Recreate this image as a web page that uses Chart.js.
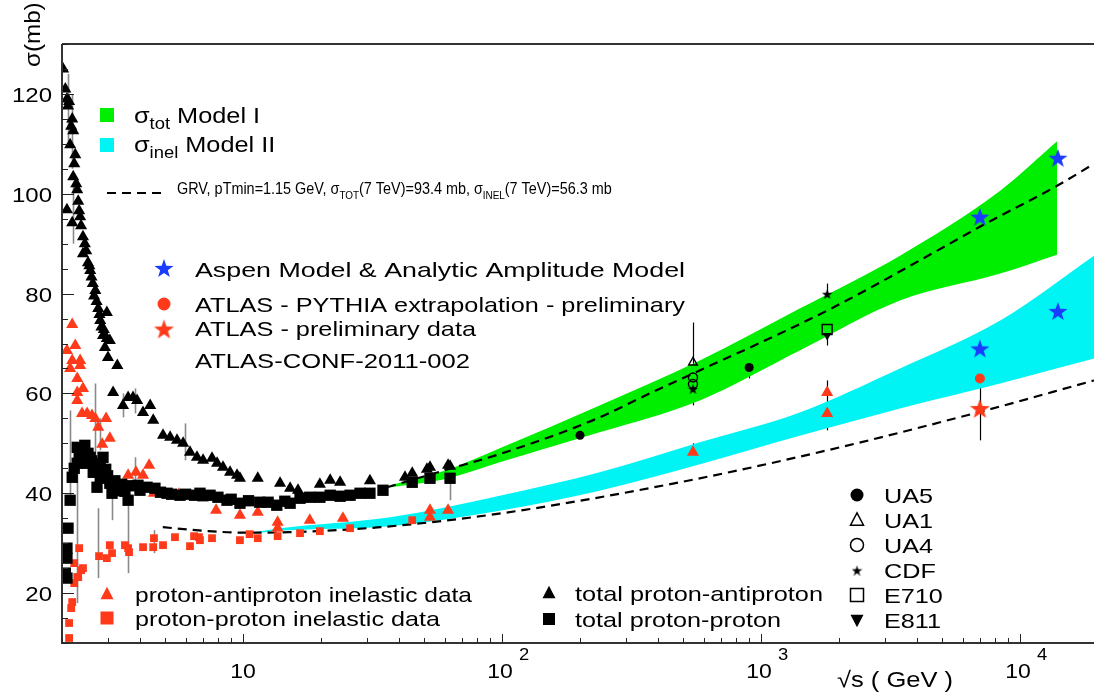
<!DOCTYPE html>
<html>
<head>
<meta charset="utf-8">
<script src="https://cdn.jsdelivr.net/npm/chart.js@4"></script>
<style>
  html, body { margin: 0; padding: 0; background: #fff; }
  #wrap { width: 1094px; height: 695px; }
</style>
</head>
<body>
<div id="wrap"><canvas id="c" width="1094" height="695"></canvas></div>
<script>
// ---- data (sqrt(s) in GeV, sigma in mb) ----
const ppbarTotE = [2.02, 2.06, 2.09, 2.11, 2.13, 2.17, 2.19, 2.21, 2.15, 2.25, 2.23, 2.21, 2.27, 2.29, 2.31, 2.33, 2.09, 2.19, 2.35, 2.37, 2.41, 2.45, 2.48, 2.52, 2.41, 2.55, 2.57, 2.6, 2.63, 2.66, 2.69, 2.72, 2.76, 2.79, 2.81, 2.84, 2.88, 2.9, 2.98, 3.06, 2.93, 2.98, 3.01, 3.27, 3.15, 3.44, 3.60, 3.76, 3.90, 4.11, 4.38, 4.50, 4.91, 5.23, 5.56, 5.87, 6.24, 6.64, 7.01, 7.59, 7.94, 8.37, 8.91, 9.48, 9.73, 11.4, 13.9, 15.2, 16.3, 19.8, 21.7, 23.7, 30.9, 42.2, 45.0, 51.3, 52.7, 61.9, 63.0];
const ppbarTotS = [125, 121, 119, 117.6, 118.5, 113.5, 115, 112.6, 109.8, 107.8, 106, 103.4, 102, 100.8, 98.5, 96.6, 96.8, 94.2, 95.4, 93.6, 91.4, 90, 88.6, 86.2, 88, 85.6, 84.6, 83.3, 82, 79.5, 80.6, 78.4, 77, 75.8, 74.6, 73.3, 71.6, 72.8, 71, 70.6, 69.2, 76.2, 67.2, 65.6, 60.2, 57.6, 59.2, 59.2, 58.6, 56.2, 57.6, 54.6, 51.6, 51.2, 50.6, 50, 48.2, 47.2, 46.6, 47, 46, 45.2, 44.2, 43.6, 43, 43, 42, 41, 40.6, 41.8, 42.6, 42.2, 42.5, 43.2, 44, 44.8, 45.2, 45.6, 45.4];

const ppTotE = [2.06, 2.09, 2.09, 2.09, 2.11, 2.15, 2.19, 2.23, 2.29, 2.29, 2.33, 2.35, 2.39, 2.41, 2.45, 2.5, 2.52, 2.57, 2.6, 2.64, 2.7, 2.73, 2.76, 2.81, 2.81, 2.88, 2.9, 2.95, 3.0, 3.06, 3.12, 3.2, 3.3, 3.4, 3.5, 3.60, 3.7, 3.93, 4.0, 4.26, 4.57, 4.8, 5.09, 5.3, 5.71, 6.0, 6.5, 6.82, 7.0, 7.46, 8.0, 8.67, 9.0, 9.73, 10.5, 11.6, 12.5, 13.5, 14.5, 15.2, 16.6, 18.1, 19.8, 21.7, 23.7, 25.9, 28.3, 30.9, 34.7, 45.0, 52.7, 63.0];
const ppTotS = [24, 27, 23, 29, 33, 38.6, 43.2, 45, 46, 49.2, 48, 47, 48.5, 47.2, 49.6, 46, 48, 47.2, 46.5, 44.2, 45, 41.2, 45.5, 46, 43, 47.2, 44, 44.8, 43.5, 42, 40, 42.5, 40.5, 41.8, 40.4, 38.6, 41.5, 41.6, 40.6, 41.2, 41, 40.2, 40, 39.8, 39.6, 39.8, 39.6, 40, 39.5, 39.6, 39.2, 38.6, 38.8, 38, 38.5, 38.2, 38.2, 37.6, 38.4, 38, 39, 39.2, 39.2, 39.6, 39.4, 39.6, 40, 40, 40.6, 42.2, 43, 43];

const ppbarInelE = [2.19, 2.09, 2.25, 2.19, 2.15, 2.35, 2.35, 2.29, 2.29, 2.29, 2.41, 2.39, 2.50, 2.61, 2.69, 2.76, 2.96, 2.86, 3.06, 3.60, 3.86, 4.11, 4.34, 4.53, 4.91, 5.66, 7.87, 9.73, 11.4, 13.6, 13.6, 18.1, 24.3, 52.7, 52.7, 61.9, 546, 1800, 1800];
const ppbarInelS = [73.8, 68.6, 69.6, 66.6, 65, 66.6, 65.6, 63, 60.2, 58.6, 61, 56, 56, 55.6, 55, 53.2, 55, 49.8, 51, 43.6, 44.2, 43.6, 45.6, 40, 40, 39.8, 36.6, 35.6, 36.2, 34.2, 33, 34.6, 35, 36.6, 35.2, 36.6, 48.2, 60.2, 56];

const ppInelE = [2.13, 2.13, 2.17, 2.19, 2.23, 2.29, 2.31, 2.33, 2.23, 2.37, 2.41, 2.78, 2.98, 3.06, 3.12, 3.50, 3.60, 3.63, 4.11, 4.50, 4.53, 4.91, 5.46, 6.24, 6.47, 6.76, 6.82, 7.59, 9.73, 10.6, 11.4, 13.6, 16.6, 19.8, 25.9, 45.0];
const ppInelS = [14, 11, 17, 18.2, 22, 23.2, 23.2, 29, 26, 24.6, 25, 27.4, 27, 29.6, 28, 29.6, 29, 28.2, 29.2, 29.2, 31, 29.6, 31.2, 29.4, 31.4, 31.2, 30.6, 31, 30.6, 31.8, 31, 31.4, 32, 32.4, 33, 34.6];

// collider points
const ua5E = [200, 900], ua5S = [51.6, 65.2];
const ua1E = [546], ua1S = [66.2];
const ua4E = [546, 546], ua4S = [63.2, 61.9];
const cdfE = [1800, 546], cdfS = [80.0, 61.0];
const e710E = [1800], e710S = [72.8];
const e811E = [1800], e811S = [71.6];
const aspenE = [7000, 14000, 7000, 14000], aspenS = [95.4, 107.2, 69.0, 76.5];
const atlasPyE = [7000], atlasPyS = [63.0];
const atlasDataE = [7000], atlasDataS = [57.0];

// model bands
const greenE  = [37, 60, 98, 238, 580, 1410, 3440, 8380, 13900];
const greenHi = [41.6, 44.5, 49, 57.6, 66.6, 77, 87.6, 100.6, 110.5];
const greenLo = [41.2, 42.8, 46.2, 52.2, 58.6, 68.6, 78.6, 84, 87.8];
const cyanE  = [11, 13.9, 37, 98, 238, 580, 1410, 3440, 8380, 19300];
const cyanHi = [32.2, 33.0, 35.2, 39.5, 44.2, 50.2, 56.2, 65.0, 74.6, 87.6];
const cyanLo = [32.0, 32.5, 33.4, 36.5, 40.5, 45.8, 51.5, 57.0, 62.0, 67.0];

// GRV curves
const grvTotE = [36, 60, 100, 224, 372, 1800, 4790, 7000, 13900, 19300];
const grvTotS = [41.2, 44.6, 48, 54.6, 60, 76.6, 88.6, 93.4, 101.6, 106];
const grvInelE = [4.9, 7, 10, 15, 33.8, 100, 486, 1800, 7000, 19300];
const grvInelS = [33.2, 32.5, 32.1, 32.2, 33.2, 36, 42.2, 48.6, 56.3, 62.6];

// error bars: [sqrt(s), low, high, dark?]
const errBars = [
  [2.11, 110, 124, 0], [2.19, 105, 120, 0], [2.21, 90, 102, 0], [2.15, 39.2, 56.6, 0],
  [2.29, 18, 47.2, 0], [2.69, 46, 62, 0], [2.81, 48.6, 55, 0], [2.76, 23, 37, 0],
  [3.60, 24, 38.6, 0], [3.12, 34.6, 42, 0], [4.53, 28, 32.6, 0], [3.44, 55.2, 60, 0],
  [3.83, 56, 61, 0], [5.97, 46.6, 54, 0], [3.83, 42, 47.2, 0], [63.0, 38.6, 45.2, 0],
  [546, 57.6, 74.2, 1], [1800, 69.6, 82, 1], [900, 63, 67.6, 1], [1800, 52.6, 62.6, 1],
  [546, 46.6, 50, 1], [7000, 50.6, 68.6, 1]
];

const FONT = '"Liberation Sans", Arial, Helvetica, sans-serif';
const RED = '#ff3a1a', BLUE = '#1a3cff', GREEN = '#00ee00', CYAN = '#00f4f4';

function pts(xs, ys) { return xs.map((x, i) => ({ x: x, y: ys[i] })); }

function starCanvas(size, color) {
  const c = document.createElement('canvas');
  c.width = c.height = size;
  const g = c.getContext('2d');
  g.fillStyle = color;
  g.beginPath();
  for (let i = 0; i < 10; i++) {
    const r = i % 2 ? size * 0.2 : size * 0.5;
    const a = -Math.PI / 2 + i * Math.PI / 5;
    const px = size / 2 + r * Math.cos(a), py = size / 2 + 1 + r * Math.sin(a);
    i ? g.lineTo(px, py) : g.moveTo(px, py);
  }
  g.closePath();
  g.fill();
  return c;
}
const blueStar = starCanvas(20, BLUE);
const redStar = starCanvas(21, RED);
const blackStar = starCanvas(11, '#000');

function scatterSet(label, xs, ys, style, r, fill, stroke, extra) {
  return Object.assign({
    type: 'scatter', label: label, data: pts(xs, ys), pointStyle: style, pointRadius: r,
    backgroundColor: fill, borderColor: stroke, borderWidth: 0, order: 0
  }, extra || {});
}
function lineSet(label, xs, ys, extra) {
  return Object.assign({
    type: 'line', label: label, data: pts(xs, ys), pointRadius: 0, borderWidth: 0,
    cubicInterpolationMode: 'monotone', fill: false, order: 10
  }, extra || {});
}

const datasets = [
  lineSet('green hi', greenE, greenHi, { fill: '+1', backgroundColor: GREEN }),
  lineSet('green lo', greenE, greenLo),
  lineSet('cyan hi', cyanE, cyanHi, { fill: '+1', backgroundColor: CYAN }),
  lineSet('cyan lo', cyanE, cyanLo),
  lineSet('GRV tot', grvTotE, grvTotS, { borderWidth: 2.2, borderColor: '#000', borderDash: [9, 6], order: 5 }),
  lineSet('GRV inel', grvInelE, grvInelS, { borderWidth: 2.2, borderColor: '#000', borderDash: [9, 6], order: 5 }),
  scatterSet('ppbar tot', ppbarTotE, ppbarTotS, 'triangle', 7, '#000', '#000'),
  scatterSet('pp tot', ppTotE, ppTotS, 'rect', 8, '#000', '#000'),
  scatterSet('ppbar inel', ppbarInelE, ppbarInelS, 'triangle', 7, RED, RED),
  scatterSet('pp inel', ppInelE, ppInelS, 'rect', 5.5, RED, RED),
  scatterSet('UA5', ua5E, ua5S, 'circle', 4.5, '#000', '#000'),
  scatterSet('UA1', ua1E, ua1S, 'triangle', 5, 'rgba(0,0,0,0)', '#000', { borderWidth: 1.4 }),
  scatterSet('UA4', ua4E, ua4S, 'circle', 4.5, 'rgba(0,0,0,0)', '#000', { borderWidth: 1.4 }),
  scatterSet('CDF', cdfE, cdfS, blackStar, 5, '#000', '#000'),
  scatterSet('E710', e710E, e710S, 'rect', 7, 'rgba(0,0,0,0)', '#000', { borderWidth: 1.4 }),
  scatterSet('E811', e811E, e811S, 'triangle', 5, '#000', '#000', { rotation: 180 }),
  scatterSet('ATLAS PYTHIA', atlasPyE, atlasPyS, 'circle', 5, RED, RED),
  scatterSet('ATLAS data', atlasDataE, atlasDataS, redStar, 10, RED, RED),
  scatterSet('Aspen', aspenE, aspenS, blueStar, 10, BLUE, BLUE)
];

// text helper: horizontal stretch sx, or fitted to width w when sx < 0
function txt(ctx, s, x, y, size, sx, align) {
  ctx.save();
  ctx.font = size + 'px ' + FONT;
  ctx.textBaseline = 'alphabetic';
  const raw = ctx.measureText(s).width;
  if (sx < 0) sx = -sx / raw;
  const w = raw * sx;
  let dx = 0;
  if (align === 'center') dx = -w / 2;
  if (align === 'right') dx = -w;
  ctx.translate(x + dx, y);
  ctx.scale(sx, 1);
  ctx.fillText(s, 0, 0);
  ctx.restore();
  return w;
}
function rich(ctx, parts, x, y, sx) {
  let cx = x;
  parts.forEach(([s, size, dy]) => { cx += txt(ctx, s, cx, y + dy, size, sx); });
}
function mark(ctx, kind, x, y, s, color, open) {
  ctx.save();
  ctx.fillStyle = color; ctx.strokeStyle = color; ctx.lineWidth = 1.5;
  ctx.beginPath();
  if (kind === 'square') ctx.rect(x - s / 2, y - s / 2, s, s);
  if (kind === 'circle') ctx.arc(x, y, s / 2, 0, Math.PI * 2);
  if (kind === 'tri') { ctx.moveTo(x, y - s * 0.55); ctx.lineTo(x + s / 2, y + s * 0.4); ctx.lineTo(x - s / 2, y + s * 0.4); ctx.closePath(); }
  if (kind === 'dtri') { ctx.moveTo(x, y + s * 0.55); ctx.lineTo(x + s / 2, y - s * 0.4); ctx.lineTo(x - s / 2, y - s * 0.4); ctx.closePath(); }
  open ? ctx.stroke() : ctx.fill();
  ctx.restore();
}
function star(ctx, img, x, y) { ctx.drawImage(img, x - img.width / 2, y - img.height / 2); }

const errorBarPlugin = {
  id: 'errorBars',
  beforeDatasetsDraw(chart) {
    const { ctx, chartArea: a, scales: { x, y } } = chart;
    ctx.save();
    ctx.beginPath(); ctx.rect(a.left, a.top, a.right - a.left, a.bottom - a.top); ctx.clip();
    errBars.forEach(([e, lo, hi, dark]) => {
      const px = Math.round(x.getPixelForValue(e)) + 0.5;
      ctx.strokeStyle = dark ? '#000' : '#8a8a8a';
      ctx.lineWidth = dark ? 1.2 : 1.6;
      ctx.beginPath();
      ctx.moveTo(px, y.getPixelForValue(lo));
      ctx.lineTo(px, y.getPixelForValue(hi));
      ctx.stroke();
    });
    ctx.restore();
  }
};

const framePlugin = {
  id: 'frame',
  afterDraw(chart) {
    const { ctx, chartArea: a, scales: { x, y } } = chart;
    ctx.save();
    ctx.strokeStyle = '#333'; ctx.lineWidth = 2;
    ctx.beginPath();
    ctx.moveTo(a.left, a.top); ctx.lineTo(a.right, a.top);
    ctx.moveTo(a.left, a.top); ctx.lineTo(a.left, a.bottom); ctx.lineTo(a.right, a.bottom);
    ctx.stroke();
    // y ticks
    ctx.lineWidth = 1;
    ctx.strokeStyle = '#222';
    for (let v = 10; v <= 130; v += 5) {
      const py = Math.round(y.getPixelForValue(v)) + 0.5;
      const len = v % 20 === 0 ? 12 : 6;
      ctx.beginPath(); ctx.moveTo(a.left, py); ctx.lineTo(a.left + len, py); ctx.stroke();
    }
    ctx.fillStyle = '#000';
    for (let v = 20; v <= 120; v += 20) {
      txt(ctx, String(v), 52, y.getPixelForValue(v) + 8, 20, 1.2, 'right');
    }
    // x ticks
    for (let d = 0; d <= 4; d++) {
      for (let m = 1; m <= 9; m++) {
        const v = m * Math.pow(10, d);
        if (v < 2 || v > 19300) continue;
        const px = Math.round(x.getPixelForValue(v)) + 0.5;
        const len = m === 1 ? 9 : 5;
        ctx.beginPath(); ctx.moveTo(px, a.bottom); ctx.lineTo(px, a.bottom - len); ctx.stroke();
      }
    }
    txt(ctx, '10', x.getPixelForValue(10), 678, 20, 1.15, 'center');
    [[100, '2'], [1000, '3'], [10000, '4']].forEach(([v, p]) => {
      const px = x.getPixelForValue(v);
      txt(ctx, '10', px - 2, 678, 20, 1.15, 'center');
      txt(ctx, p, px + 17, 660, 16, 1.15);
    });
    // axis titles
    txt(ctx, '\u221As ( GeV )', 837, 687, 22, -116);
    ctx.save();
    ctx.translate(40, 67); ctx.rotate(-Math.PI / 2);
    txt(ctx, '\u03C3(mb)', 0, 0, 22, 1.1);
    ctx.restore();

    // legend top-left
    ctx.fillStyle = GREEN; ctx.fillRect(100, 108, 14, 14);
    ctx.fillStyle = CYAN; ctx.fillRect(100, 138, 14, 14);
    ctx.fillStyle = '#000';
    rich(ctx, [['\u03C3', 22, 0], ['tot', 16, 6], [' Model I', 22, 0]], 134, 123, 1.15);
    rich(ctx, [['\u03C3', 22, 0], ['inel', 16, 6], [' Model II', 22, 0]], 134, 152, 1.15);
    ctx.save();
    ctx.strokeStyle = '#000'; ctx.lineWidth = 2.2; ctx.setLineDash([9, 6]);
    ctx.beginPath(); ctx.moveTo(107, 193); ctx.lineTo(165, 193); ctx.stroke();
    ctx.restore();
    rich(ctx, [['GRV, pTmin=1.15 GeV, ', 16, 0], ['\u03C3', 16, 0], ['TOT', 11, 5],
      ['(7 TeV)=93.4 mb, ', 16, 0], ['\u03C3', 16, 0], ['INEL', 11, 5], ['(7 TeV)=56.3 mb', 16, 0]], 177, 194, 0.9);

    star(ctx, blueStar, 164, 268);
    txt(ctx, 'Aspen Model & Analytic Amplitude Model', 195, 277, 21, -490);
    mark(ctx, 'circle', 164, 304, 13, RED);
    txt(ctx, 'ATLAS - PYTHIA extrapolation - preliminary', 195, 312, 21, -490);
    star(ctx, redStar, 164, 329);
    txt(ctx, 'ATLAS - preliminary data', 195, 336, 21, -281);
    txt(ctx, 'ATLAS-CONF-2011-002', 195, 368, 21, -275);

    // legend bottom
    mark(ctx, 'tri', 107, 594, 13, RED);
    txt(ctx, 'proton-antiproton inelastic data', 135, 602, 21, -337);
    mark(ctx, 'square', 107, 618, 13, RED);
    txt(ctx, 'proton-proton inelastic data', 135, 626, 21, -305);
    mark(ctx, 'tri', 549, 593, 13, '#000');
    txt(ctx, 'total proton-antiproton', 575, 601, 21, -248);
    mark(ctx, 'square', 549, 619, 12, '#000');
    txt(ctx, 'total proton-proton', 575, 627, 21, 1.2);

    // legend experiments
    const rows = [['UA5', 'circle', 0], ['UA1', 'tri', 1], ['UA4', 'circle', 1], ['CDF', 'star', 0], ['E710', 'square', 1], ['E811', 'dtri', 0]];
    rows.forEach(([name, kind, open], i) => {
      const cy = 495 + i * 25;
      if (kind === 'star') star(ctx, blackStar, 857, cy);
      else mark(ctx, kind, 857, cy, 13, '#000', open);
      txt(ctx, name, 884, cy + 8, 21, 1.2);
    });
    ctx.restore();
  }
};

new Chart(document.getElementById('c'), {
  type: 'scatter',
  data: { datasets: datasets },
  options: {
    responsive: false,
    animation: false,
    devicePixelRatio: 1,
    layout: { autoPadding: false, padding: { top: 44, right: 0, left: 0, bottom: 0 } },
    plugins: { legend: { display: false }, tooltip: { enabled: false } },
    scales: {
      x: {
        type: 'logarithmic', min: 2, max: 19300,
        grid: { display: false }, border: { display: false },
        ticks: { display: false },
        afterFit(s) { s.height = 52; }
      },
      y: {
        type: 'linear', min: 10, max: 130,
        grid: { display: false }, border: { display: false },
        ticks: { display: false },
        afterFit(s) { s.width = 62; }
      }
    }
  },
  plugins: [errorBarPlugin, framePlugin]
});
</script>
</body>
</html>
